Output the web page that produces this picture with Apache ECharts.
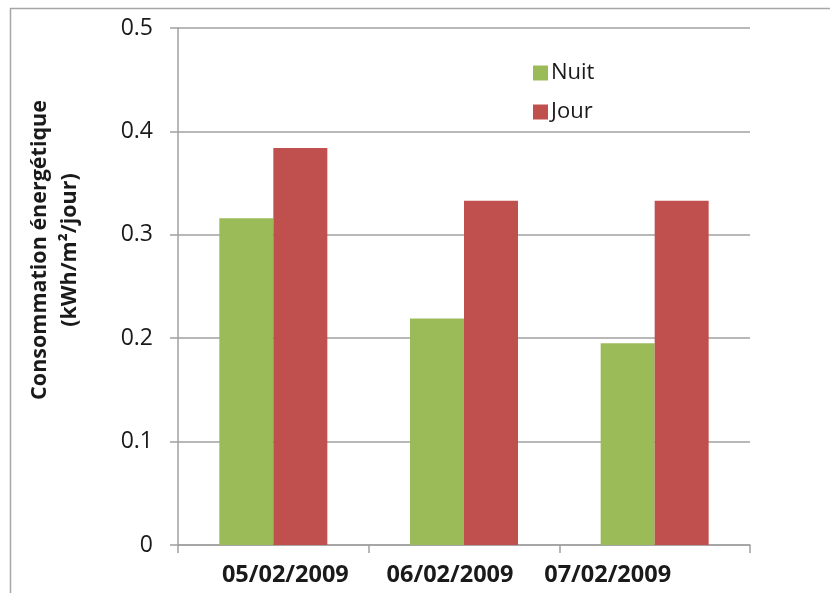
<!DOCTYPE html>
<html>
<head>
<meta charset="utf-8">
<script src="https://cdn.jsdelivr.net/npm/echarts@6/dist/echarts.min.js"></script>
<style>
  html, body { margin: 0; padding: 0; background: #fff; }
  #chart { width: 830px; height: 593px; }
</style>
</head>
<body>
<div id="chart"></div>
<script>
// Daily energy consumption, night vs day
const categories = ['05/02/2009', '06/02/2009', '07/02/2009'];
const nuitValues = [0.316, 0.219, 0.195];
const jourValues = [0.384, 0.333, 0.333];
const yTicks = [0, 0.1, 0.2, 0.3, 0.4, 0.5];

const FONT = '"Open Sans", "Noto Sans", sans-serif';
const chart = echarts.init(document.getElementById('chart'), null, { renderer: 'canvas' });

// date labels sit on a tighter spacing than the category bands
const labelStyle = { fontFamily: FONT, fontSize: 23.5, fontWeight: 'bold', color: '#1a1a1a' };
const labelRich = {
  l0: Object.assign({ padding: [0, 0, 0, 24] }, labelStyle),
  l1: Object.assign({ padding: [0, 28, 0, 0] }, labelStyle),
  l2: Object.assign({ padding: [0, 94, 0, 0] }, labelStyle)
};

chart.setOption({
  animation: false,
  backgroundColor: '#ffffff',
  textStyle: { fontFamily: FONT },
  graphic: [
    {
      type: 'rect',
      shape: { x: 10.5, y: 8.5, width: 900, height: 700 },
      style: { fill: 'none', stroke: '#a6a6a6', lineWidth: 1.5 },
      silent: true
    },
    {
      type: 'text',
      x: 55,
      y: 250,
      rotation: Math.PI / 2,
      style: {
        text: 'Consommation énergétique\n(kWh/m²/jour)',
        fontFamily: FONT,
        fontSize: 21.5,
        fontWeight: 'bold',
        fill: '#1a1a1a',
        align: 'center',
        verticalAlign: 'middle',
        lineHeight: 30
      }
    }
  ],
  legend: {
    orient: 'vertical',
    left: 528,
    top: 57,
    itemWidth: 15,
    itemHeight: 15,
    itemGap: 17,
    icon: 'rect',
    textStyle: { fontFamily: FONT, fontSize: 22, color: '#1a1a1a', padding: [0, 0, 0, -2] },
    data: ['Nuit', 'Jour']
  },
  grid: { left: 178, right: 80, top: 28, bottom: 48, containLabel: false },
  xAxis: {
    type: 'category',
    data: categories,
    boundaryGap: true,
    axisLine: { show: true, lineStyle: { color: '#a0a0a0', width: 1.5 } },
    axisTick: { show: true, length: 8, inside: false, lineStyle: { color: '#a0a0a0', width: 1.5 } },
    axisLabel: {
      interval: 0,
      margin: 18,
      formatter: (v, i) => '{l' + i + '|' + v + '}',
      rich: labelRich
    },
    splitLine: { show: false }
  },
  yAxis: {
    type: 'value',
    min: yTicks[0],
    max: yTicks[yTicks.length - 1],
    interval: 0.1,
    axisLine: { show: true, lineStyle: { color: '#a0a0a0', width: 1.5 } },
    axisTick: { show: true, length: 8, inside: false, lineStyle: { color: '#a0a0a0', width: 1.5 } },
    axisLabel: {
      fontFamily: FONT,
      fontSize: 23,
      color: '#1a1a1a',
      margin: 25,
      formatter: v => (v === 0 ? '0' : v.toFixed(1))
    },
    splitLine: { show: true, lineStyle: { color: '#a0a0a0', width: 1.5 } }
  },
  series: [
    {
      name: 'Nuit',
      type: 'bar',
      data: nuitValues,
      barWidth: 54,
      barGap: '0%',
      itemStyle: { color: '#9bbb59' }
    },
    {
      name: 'Jour',
      type: 'bar',
      data: jourValues,
      barWidth: 54,
      barGap: '0%',
      itemStyle: { color: '#c0504d' }
    }
  ]
});
</script>
</body>
</html>
